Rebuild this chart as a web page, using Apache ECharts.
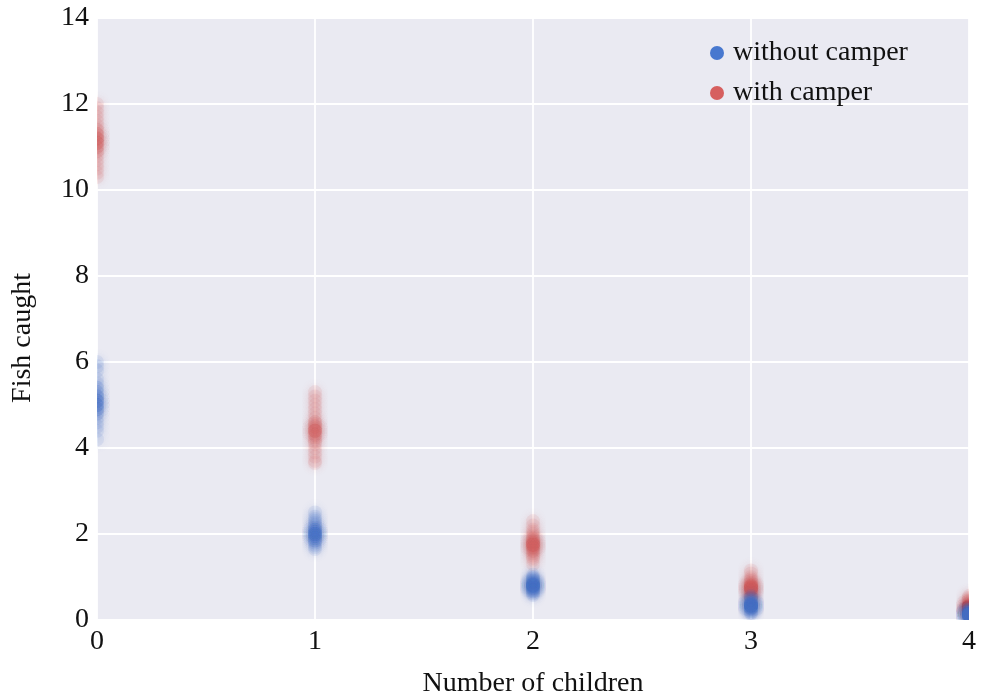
<!DOCTYPE html>
<html>
<head>
<meta charset="utf-8">
<script src="https://cdn.jsdelivr.net/npm/echarts@6/dist/echarts.min.js"></script>
<style>
html,body{margin:0;padding:0;background:#fff;}
#chart{width:981px;height:695px;}
</style>
</head>
<body>
<div id="chart"></div>
<script>
// Number of children (x positions)
const children = [0, 1, 2, 3, 4];
const xTicks = [0, 1, 2, 3, 4];
const yTicks = [0, 2, 4, 6, 8, 10, 12, 14];

// Posterior samples of fish caught, without camper, per number of children
const without0 = [5.1, 5.0, 5.2, 4.9, 5.3, 5.1, 4.8, 5.4, 5.0, 5.2, 4.7, 5.5, 5.1, 4.9, 5.6, 4.6, 5.0, 5.3, 4.5, 5.8, 5.1, 4.8, 5.2, 4.4, 5.9, 5.0, 4.2, 5.4, 4.9, 6.0];
const without1 = [2.0, 1.95, 2.05, 1.9, 2.1, 2.0, 1.85, 2.15, 2.0, 1.95, 2.2, 1.8, 2.05, 2.25, 1.75, 2.0, 2.1, 1.9, 2.3, 1.7, 2.0, 2.35, 1.65, 2.05, 1.95, 2.4, 2.1, 1.85, 2.5, 2.0];
const without2 = [0.8, 0.78, 0.83, 0.75, 0.86, 0.8, 0.72, 0.88, 0.79, 0.82, 0.7, 0.92, 0.77, 0.84, 0.66, 0.95, 0.8, 0.74, 0.9, 0.62, 1.0, 0.81, 0.76, 0.58, 1.05, 0.85, 0.79, 0.68, 0.98, 0.82];
const without3 = [0.33, 0.31, 0.35, 0.3, 0.37, 0.33, 0.28, 0.39, 0.32, 0.36, 0.26, 0.42, 0.34, 0.3, 0.45, 0.24, 0.33, 0.38, 0.21, 0.48, 0.35, 0.29, 0.52, 0.18, 0.34, 0.4, 0.27, 0.55, 0.15, 0.36];
const without4 = [0.13, 0.12, 0.14, 0.11, 0.15, 0.13, 0.1, 0.16, 0.12, 0.14, 0.09, 0.17, 0.13, 0.11, 0.19, 0.08, 0.14, 0.2, 0.07, 0.12, 0.15, 0.22, 0.06, 0.13, 0.16, 0.1, 0.24, 0.05, 0.14, 0.12];

// Posterior samples of fish caught, with camper, per number of children
const with0 = [11.2, 11.1, 11.3, 11.0, 11.4, 11.2, 10.9, 11.5, 11.1, 11.3, 10.8, 11.6, 11.2, 11.0, 11.7, 10.7, 11.1, 11.4, 10.6, 11.8, 11.2, 10.9, 11.3, 10.5, 11.9, 11.1, 10.4, 12.0, 11.0, 10.3];
const with1 = [4.4, 4.3, 4.5, 4.2, 4.6, 4.4, 4.1, 4.7, 4.35, 4.5, 4.0, 4.8, 4.4, 4.25, 4.9, 3.9, 4.45, 4.6, 3.8, 5.0, 4.4, 4.15, 5.1, 3.7, 4.55, 4.3, 5.2, 3.65, 4.4, 5.3];
const with2 = [1.75, 1.7, 1.8, 1.65, 1.85, 1.75, 1.6, 1.9, 1.72, 1.8, 1.55, 1.95, 1.75, 1.68, 2.0, 1.5, 1.78, 1.88, 1.45, 2.05, 1.75, 1.62, 2.1, 1.4, 1.82, 1.7, 2.2, 1.3, 1.76, 2.3];
const with3 = [0.75, 0.72, 0.78, 0.7, 0.8, 0.75, 0.67, 0.83, 0.73, 0.78, 0.64, 0.86, 0.75, 0.7, 0.9, 0.6, 0.76, 0.82, 0.56, 0.95, 0.74, 0.68, 1.0, 0.52, 0.79, 0.72, 1.08, 0.47, 0.77, 1.15];
const with4 = [0.3, 0.28, 0.32, 0.27, 0.33, 0.3, 0.25, 0.35, 0.29, 0.31, 0.23, 0.37, 0.3, 0.27, 0.4, 0.21, 0.31, 0.34, 0.19, 0.44, 0.3, 0.26, 0.48, 0.17, 0.32, 0.29, 0.52, 0.15, 0.3, 0.56];

const seriesNames = ['without camper', 'with camper'];
const colors = {'without camper': '#4878CF', 'with camper': '#D65F5F'};

const withoutGroups = [without0, without1, without2, without3, without4];
const withGroups = [with0, with1, with2, with3, with4];

function toPoints(groups) {
  const pts = [];
  groups.forEach((g, i) => g.forEach(v => pts.push([children[i], v])));
  return pts;
}

function makeRender(color) {
  return function (params, api) {
    const p = api.coord([api.value(0), api.value(1)]);
    return {
      type: 'circle',
      shape: {cx: p[0], cy: p[1], r: 7},
      style: {fill: color, opacity: 0.095, shadowBlur: 9, shadowColor: color}
    };
  };
}

const FONT = 'Liberation Serif';
const chart = echarts.init(document.getElementById('chart'), null, {renderer: 'canvas'});
chart.setOption({
  animation: false,
  backgroundColor: '#ffffff',
  textStyle: {fontFamily: FONT},
  grid: {left: 97, right: 12, top: 18, bottom: 75, show: true, backgroundColor: '#EAEAF2', borderWidth: 0, containLabel: false, outerBoundsMode: 'none'},
  legend: {
    orient: 'vertical', left: 705, top: 34, itemGap: 12,
    itemWidth: 14, itemHeight: 14, icon: 'circle',
    data: seriesNames,
    itemStyle: {opacity: 1},
    textStyle: {fontFamily: FONT, fontSize: 28, color: '#111', padding: [0, 0, 0, 4]}
  },
  xAxis: {
    type: 'value', min: 0, max: 4, interval: 1,
    axisLine: {show: false}, axisTick: {show: false},
    splitLine: {show: true, lineStyle: {color: '#ffffff', width: 1.8}},
    axisLabel: {fontFamily: FONT, fontSize: 28, color: '#111', margin: 8, formatter: v => xTicks.includes(v) ? String(v) : ''},
    name: 'Number of children', nameLocation: 'middle', nameGap: 50,
    nameTextStyle: {fontFamily: FONT, fontSize: 28, color: '#111'}
  },
  yAxis: {
    type: 'value', min: 0, max: 14, interval: 2,
    axisLine: {show: false}, axisTick: {show: false},
    splitLine: {show: true, lineStyle: {color: '#ffffff', width: 1.8}},
    axisLabel: {fontFamily: FONT, fontSize: 28, color: '#111', margin: 8, formatter: v => yTicks.includes(v) ? String(v) : ''},
    name: 'Fish caught', nameLocation: 'middle', nameGap: 60,
    nameTextStyle: {fontFamily: FONT, fontSize: 28, color: '#111', padding: [0, 38, 0, 0]}
  },
  series: [
    {
      name: seriesNames[1], type: 'custom', data: toPoints(withGroups), clip: true,
      encode: {x: 0, y: 1},
      itemStyle: {color: colors['with camper']},
      renderItem: makeRender(colors['with camper'])
    },
    {
      name: seriesNames[0], type: 'custom', data: toPoints(withoutGroups), clip: true,
      encode: {x: 0, y: 1},
      itemStyle: {color: colors['without camper']},
      renderItem: makeRender(colors['without camper'])
    }
  ]
});
</script>
</body>
</html>
